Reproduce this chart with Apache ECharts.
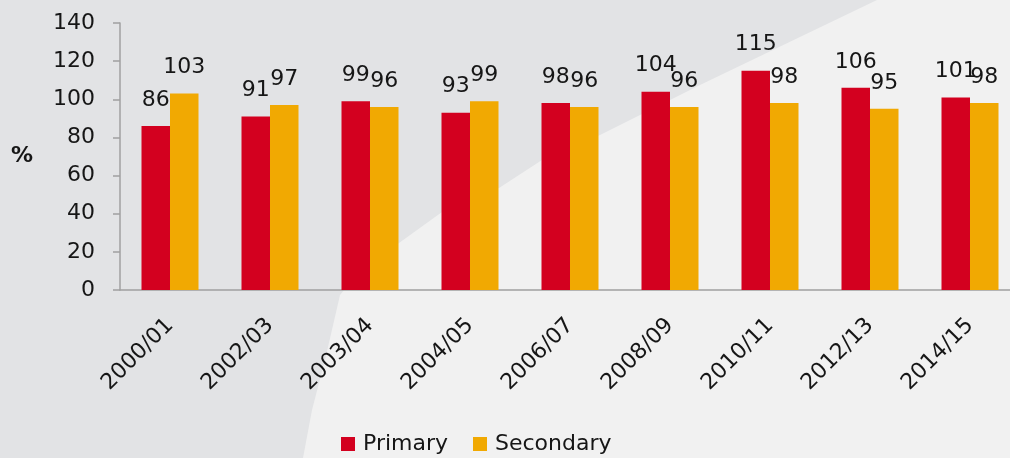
<!DOCTYPE html>
<html>
<head>
<meta charset="utf-8">
<script src="https://cdn.jsdelivr.net/npm/echarts@6/dist/echarts.min.js"></script>
<style>
  html, body { margin: 0; padding: 0; background: #f1f1f1; }
  #main { width: 1010px; height: 458px; }
</style>
</head>
<body>
<div id="main"></div>
<script>
var years = ['2000/01', '2002/03', '2003/04', '2004/05', '2006/07', '2008/09', '2010/11', '2012/13', '2014/15'];
var primary = [86, 91, 99, 93, 98, 104, 115, 106, 101];
var secondary = [103, 97, 96, 99, 96, 96, 98, 95, 98];
var yTicks = [0, 20, 40, 60, 80, 100, 120, 140];

var font = 'DejaVu Sans';
var chart = echarts.init(document.getElementById('main'));

var labelStyle = {
    show: true,
    position: 'top',
    distance: 15,
    color: '#161616',
    fontFamily: font,
    fontSize: 22
};

var option = {
    backgroundColor: '#f1f1f1',
    animation: false,
    graphic: [{
        // grey backdrop shape on the left
        type: 'polygon',
        z: -10,
        silent: true,
        shape: {
            points: [[0, 0], [877, 0], [700, 85], [600, 135], [542, 160], [499, 188], [442, 212],
                [399, 243], [360, 270], [340, 295], [325, 360], [312, 410], [303, 458], [0, 458]]
        },
        style: { fill: '#e2e3e5' }
    }],
    legend: {
        data: ['Primary', 'Secondary'],
        left: 336,
        top: 428,
        icon: 'rect',
        itemWidth: 14,
        itemHeight: 14,
        itemGap: 25,
        textStyle: { fontFamily: font, fontSize: 22, color: '#161616', padding: [0, 0, 0, 3] }
    },
    grid: {
        left: 120,
        top: 23,
        width: 900,
        height: 267,
        outerBoundsMode: 'none'
    },
    xAxis: {
        type: 'category',
        data: years,
        axisLine: { lineStyle: { color: '#a0a0a0', width: 1.5 } },
        axisTick: { length: 8, lineStyle: { color: '#a0a0a0', width: 1.5 } },
        axisLabel: {
            rotate: 45,
            margin: 32,
            color: '#161616',
            fontFamily: font,
            fontSize: 22
        }
    },
    yAxis: {
        type: 'value',
        min: 0,
        max: 140,
        interval: 20,
        name: '%',
        nameLocation: 'middle',
        nameRotate: 0,
        nameGap: 87,
        nameTextStyle: { fontFamily: font, fontSize: 22, fontWeight: 'bold', color: '#161616' },
        splitLine: { show: false },
        axisLine: { show: true, lineStyle: { color: '#a0a0a0', width: 1.5 } },
        axisTick: { show: true, length: 7, lineStyle: { color: '#a0a0a0', width: 1.5 } },
        axisLabel: {
            margin: 25,
            color: '#161616',
            fontFamily: font,
            fontSize: 22,
            formatter: function (v) { return yTicks.indexOf(v) >= 0 ? String(v) : ''; }
        }
    },
    series: [{
        name: 'Primary',
        type: 'bar',
        data: primary,
        barWidth: 28.5,
        barGap: '0%',
        itemStyle: { color: '#d3001f' },
        label: labelStyle
    }, {
        name: 'Secondary',
        type: 'bar',
        data: secondary,
        barWidth: 28.5,
        itemStyle: { color: '#f1a902' },
        label: labelStyle
    }]
};

chart.setOption(option);
</script>
</body>
</html>
